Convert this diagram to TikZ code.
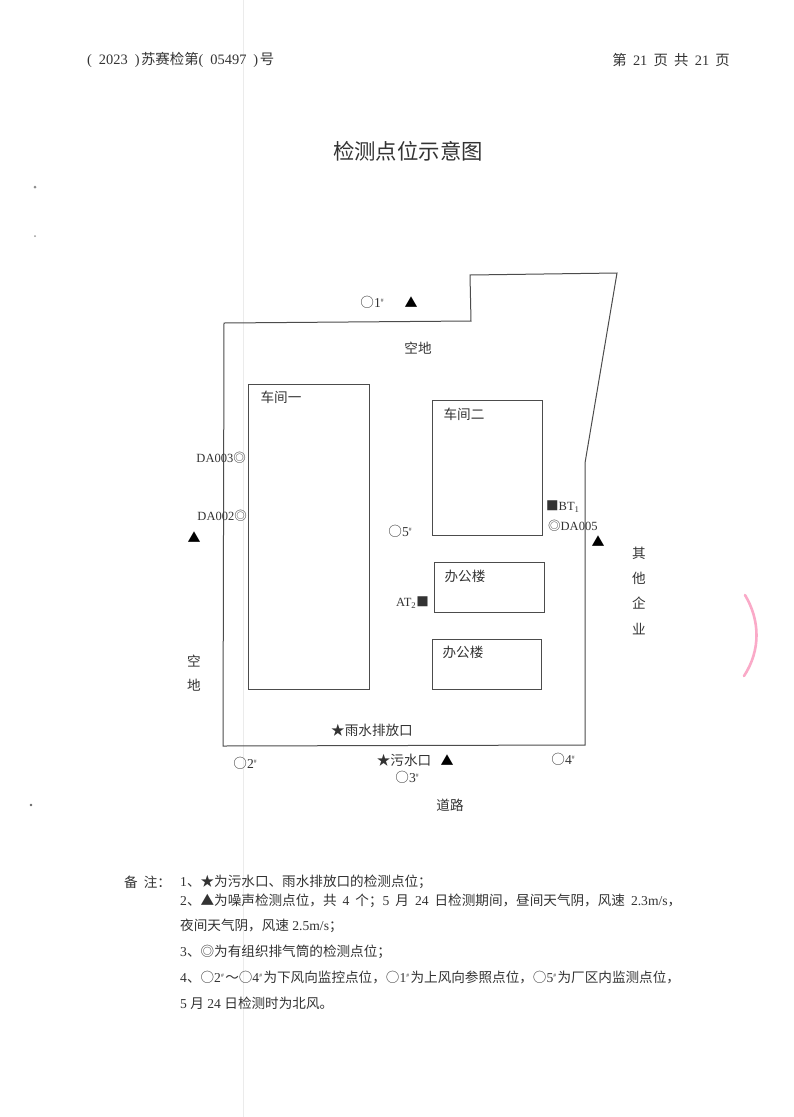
\documentclass[tikz,border=0pt]{standalone}
\usepackage{fontspec}
\setmainfont{Liberation Serif}
\newfontfamily\cjk{Noto Sans CJK SC}
\newcommand{\zh}[1]{{\cjk #1}}
\newcommand{\hao}[1]{#1\raisebox{4.6pt}{\fontsize{5.5}{5.5}\selectfont\#}}
\newcommand{\fsize}[1]{\fontsize{#1}{#1}\selectfont}
% full-width punctuation
\newcommand{\dou}{\char"FF0C\relax}
\newcommand{\fen}{\char"FF1B\relax}
\newcommand{\mao}{\char"FF1A\relax}
\newcommand{\bolang}{\char"FF5E\relax}
\usetikzlibrary{positioning}
\definecolor{inkgray}{gray}{0.2}
\definecolor{linegray}{gray}{0.3}
\definecolor{stamppink}{RGB}{250,170,200}
\tikzset{
  txt/.style={inner sep=0pt,text=inkgray,font=\fsize{13.6}},
  code/.style={txt,font=\fsize{12.5}},
  note/.style={txt,anchor=west},
  blank/.style={txt,font=\fsize{14.4}},
  wall/.style={draw=linegray,line width=1pt},
  noisemark/.style={inner sep=0pt,text=black,font=\fsize{13}\cjk}
}
\begin{document}
\begin{tikzpicture}[x=1pt,y=-1pt]
\useasboundingbox (0,0) rectangle (794,1117);
\fill[white] (0,0) rectangle (794,1117);
% scan marks
\draw[black!8,line width=0.8pt] (243,0) -- (243,1117);
\fill[black!45] (35,187) circle (1.5);
\fill[black!40] (35,236) circle (1);
\fill[black!60] (31,805) circle (1.3);
\draw[stamppink,line width=2.6pt,line cap=round] (745,595) .. controls (760,620) and (761,650) .. (744,676);
% header
\node[blank,anchor=west] (codeline) at (87,60) {(\hspace{7pt}2023\hspace{7pt})\hspace{1.5pt}\zh{苏赛检第}(\hspace{7pt}05497\hspace{7pt})\hspace{1.5pt}\zh{号}};
\node[blank,anchor=east] (pageline) at (730,60) {\zh{第}\hspace{6.2pt}21\hspace{6.2pt}\zh{页}\hspace{6.2pt}\zh{共}\hspace{6.2pt}21\hspace{6.2pt}\zh{页}};
\node[txt,font=\fsize{21.4}\cjk] (title) at (408,151) {检测点位示意图};
% site outline
\draw[wall] (224,323) -- (471,321) -- (470,275) -- (617,273) -- (585,463) -- (585,745) -- (223,746) -- cycle;
% buildings
\draw[wall] (248,384) rectangle (369,689);
\draw[wall] (432,400) rectangle (542,535);
\draw[wall] (434,562) rectangle (544,612);
\draw[wall] (432,639) rectangle (541,689);
\node[txt] (workshopA) at (281,397) {\zh{车间一}};
\node[txt] (workshopB) at (464,414) {\zh{车间二}};
\node[txt] (officeA) at (465,576) {\zh{办公楼}};
\node[txt] (officeB) at (463,652) {\zh{办公楼}};
% surroundings
\node[txt] (openN) at (418,348) {\zh{空地}};
\node[txt] (openWa) at (194,661) {\zh{空}};
\node[txt] (openWb) at (194,685) {\zh{地}};
\node[txt] (road) at (450,805) {\zh{道路}};
\node[txt] (otherA) at (639,553) {\zh{其}};
\node[txt] (otherB) at (639,578) {\zh{他}};
\node[txt] (otherC) at (639,603) {\zh{企}};
\node[txt] (otherD) at (639,629) {\zh{业}};
% noise points
\node[noisemark] (noiseA) at (411,302) {▲};
\node[noisemark] (noiseB) at (194,537) {▲};
\node[noisemark] (noiseC) at (598,541) {▲};
\node[noisemark] (noiseD) at (447,760) {▲};
% air points
\node[txt] (airA) at (372,302) {\zh{○}\hao{1}};
\node[txt] (airB) at (245,763) {\zh{○}\hao{2}};
\node[txt] (airC) at (407,777) {\zh{○}\hao{3}};
\node[txt] (airD) at (563,759) {\zh{○}\hao{4}};
\node[txt] (airE) at (400,531) {\zh{○}\hao{5}};
% stacks and others
\node[code,anchor=east] (stackA) at (246,458) {DA003\zh{◎}};
\node[code,anchor=east] (stackB) at (247,516) {DA002\zh{◎}};
\node[code,anchor=west] (stackC) at (548,526) {\zh{◎}DA005};
\node[code,anchor=west] (btpoint) at (546,507) {\zh{■}BT\textsubscript{1}};
\node[code,anchor=east] (atpoint) at (429,603) {AT\textsubscript{2}\zh{■}};
\node[txt] (rainout) at (372,730) {\zh{★雨水排放口}};
\node[txt] (sewage) at (404,760) {\zh{★污水口}};
% notes
\node[txt,anchor=west] (remark) at (124,882) {\zh{备}\hspace{6pt}\zh{注\mao}};
\node[note] (noteA) at (180,882) {1\zh{、★为污水口、雨水排放口的检测点位\fen}};
\node[note] (noteB) at (180,901) {\spaceskip=6pt 2\zh{、▲为噪声检测点位\dou 共} 4 \zh{个\fen}5 \zh{月} 24 \zh{日检测期间\dou 昼间天气阴\dou 风速} 2.3m/s\zh{\dou}};
\node[note] (noteC) at (180,926) {\zh{夜间天气阴\dou 风速} 2.5m/s\zh{\fen}};
\node[note] (noteD) at (180,952) {3\zh{、◎为有组织排气筒的检测点位\fen}};
\node[note] (noteE) at (180,977) {4\zh{、○}\hao{2}\hspace{1.5pt}\zh{\bolang ○}\hao{4}\hspace{1.5pt}\zh{为下风向监控点位\dou ○}\hao{1}\hspace{1.5pt}\zh{为上风向参照点位\dou ○}\hao{5}\hspace{1.5pt}\zh{为厂区内监测点位\dou}};
\node[note] (noteF) at (180,1003) {5 \zh{月} 24 \zh{日检测时为北风。}};
\end{tikzpicture}
\end{document}
